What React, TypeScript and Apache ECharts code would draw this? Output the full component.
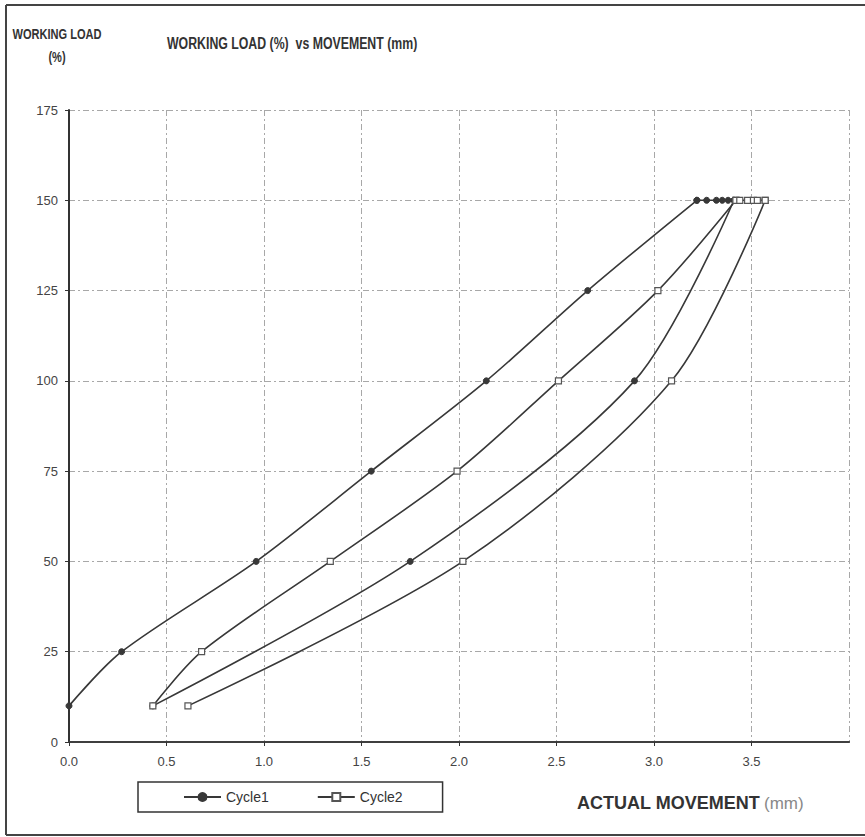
import React, { useEffect, useRef } from "react";
import * as echarts from "echarts";

// Cycle 1: loading, hold at 150 %, unloading
const cycle1Movement = [0.0, 0.27, 0.96, 1.55, 2.14, 2.66, 3.22, 3.27, 3.32, 3.35, 3.38, 3.41, 2.9, 1.75, 0.43];
const cycle1Load = [10, 25, 50, 75, 100, 125, 150, 150, 150, 150, 150, 150, 100, 50, 10];
// Cycle 2: loading, hold at 150 %, unloading
const cycle2Movement = [0.43, 0.68, 1.34, 1.99, 2.51, 3.02, 3.42, 3.44, 3.48, 3.51, 3.53, 3.57, 3.09, 2.02, 0.61];
const cycle2Load = [10, 25, 50, 75, 100, 125, 150, 150, 150, 150, 150, 150, 100, 50, 10];

const seriesNames = ["Cycle1", "Cycle2"];
const chartTitle = "WORKING LOAD (%)  vs MOVEMENT (mm)";
const yTitleLines = ["WORKING LOAD", "(%)"];
const xTitleMain = "ACTUAL MOVEMENT";
const xTitleUnit = "(mm)";

const zip = (xs: number[], ys: number[]) => xs.map((x, i) => [x, ys[i]]);

// split a cycle into loading / hold / unloading parts (joined at shared points)
function splitCycle(xs: number[], ys: number[]) {
  const pts = zip(xs, ys);
  const peak = Math.max(...ys);
  const first = ys.indexOf(peak);
  const last = ys.lastIndexOf(peak);
  return {
    loading: pts.slice(0, first + 1),
    hold: pts.slice(first, last + 1),
    unloading: pts.slice(last),
  };
}

export default function App() {
  const ref = useRef<HTMLDivElement>(null);
  useEffect(() => {
    if (!ref.current) return;
    const chart = echarts.init(ref.current, null, { renderer: "svg" });
    const gridLine = { show: true, lineStyle: { color: "#a8a8a8", width: 1, type: [6, 3, 2, 3] } };
    const sans = "'Liberation Sans', Arial, sans-serif";
    const styles = [
      {
        symbol: "circle",
        symbolSize: 6,
        lineStyle: { color: "#383838", width: 1.6 },
        itemStyle: { color: "#383838", borderColor: "#383838", borderWidth: 1 },
      },
      {
        symbol: "rect",
        symbolSize: 6,
        lineStyle: { color: "#383838", width: 1.6 },
        itemStyle: { color: "#ffffff", borderColor: "#555", borderWidth: 1.2 },
      },
    ];
    const cycles = [splitCycle(cycle1Movement, cycle1Load), splitCycle(cycle2Movement, cycle2Load)];
    const series: any[] = [];
    cycles.forEach((c, i) => {
      series.push({ name: seriesNames[i], type: "line", data: c.loading, smooth: 0.3, ...styles[i] });
      series.push({ name: seriesNames[i], type: "line", data: c.hold, smooth: false, ...styles[i] });
      series.push({ name: seriesNames[i], type: "line", data: c.unloading, smooth: 0.3, ...styles[i] });
    });
    chart.setOption({
      animation: false,
      backgroundColor: "#ffffff",
      grid: { left: 69, right: 16, top: 110, bottom: 95, containLabel: false },
      legend: {
        left: 138,
        top: 782,
        data: seriesNames,
        itemWidth: 37,
        itemHeight: 10,
        itemGap: 48,
        padding: [8, 40, 8, 45],
        borderColor: "#333",
        borderWidth: 1.5,
        textStyle: { fontFamily: sans, fontSize: 14, color: "#333" },
      },
      xAxis: [
        {
          type: "value",
          min: 0,
          max: 4,
          interval: 0.5,
          axisLine: { show: true, onZero: false, lineStyle: { color: "#333", width: 2 } },
          axisTick: { show: true, length: 4, lineStyle: { color: "#333" } },
          axisLabel: {
            showMaxLabel: false,
            margin: 13,
            formatter: (v: number) => v.toFixed(1),
            fontFamily: sans,
            fontSize: 13,
            color: "#444",
          },
          splitLine: gridLine,
        },
        {
          type: "value",
          position: "top",
          min: 0,
          max: 4,
          interval: 0.5,
          axisLine: { show: true, lineStyle: { color: "#444", width: 1.5 } },
          axisTick: { show: false },
          axisLabel: { show: false },
          splitLine: { show: false },
        },
      ],
      yAxis: {
        type: "value",
        min: 0,
        max: 175,
        interval: 25,
        axisLine: { show: true, lineStyle: { color: "#333", width: 2 } },
        axisTick: { show: true, length: 4, lineStyle: { color: "#333" } },
        axisLabel: { margin: 11, fontFamily: sans, fontSize: 13, color: "#444" },
        splitLine: gridLine,
      },
      series,
      graphic: [
        { type: "line", shape: { x1: 6, y1: 5, x2: 865, y2: 5 }, style: { stroke: "#444", lineWidth: 2 } },
        { type: "line", shape: { x1: 6, y1: 5, x2: 6, y2: 835 }, style: { stroke: "#444", lineWidth: 2 } },
        { type: "line", shape: { x1: 6, y1: 835, x2: 865, y2: 835 }, style: { stroke: "#444", lineWidth: 2 } },
        {
          type: "text",
          x: 57,
          y: 35,
          scaleX: 0.79,
          style: { text: yTitleLines[0], fill: "#333", font: `bold 14px ${sans}`, textAlign: "center", textVerticalAlign: "middle" },
        },
        {
          type: "text",
          x: 57,
          y: 58,
          scaleX: 0.79,
          style: { text: yTitleLines[1], fill: "#333", font: `bold 14px ${sans}`, textAlign: "center", textVerticalAlign: "middle" },
        },
        {
          type: "text",
          x: 167,
          y: 43,
          scaleX: 0.77,
          style: { text: chartTitle, fill: "#333", font: `bold 16px ${sans}`, textAlign: "left", textVerticalAlign: "middle" },
        },
        {
          type: "text",
          x: 577,
          y: 803,
          style: { text: xTitleMain, fill: "#333", font: `bold 18px ${sans}`, textAlign: "left", textVerticalAlign: "middle" },
        },
        {
          type: "text",
          x: 764,
          y: 803,
          style: { text: xTitleUnit, fill: "#888", font: `17px ${sans}`, textAlign: "left", textVerticalAlign: "middle" },
        },
      ],
    });
    return () => chart.dispose();
  }, []);
  return <div ref={ref} style={{ width: 865, height: 837, position: "absolute", left: 0, top: 0 }} />;
}
